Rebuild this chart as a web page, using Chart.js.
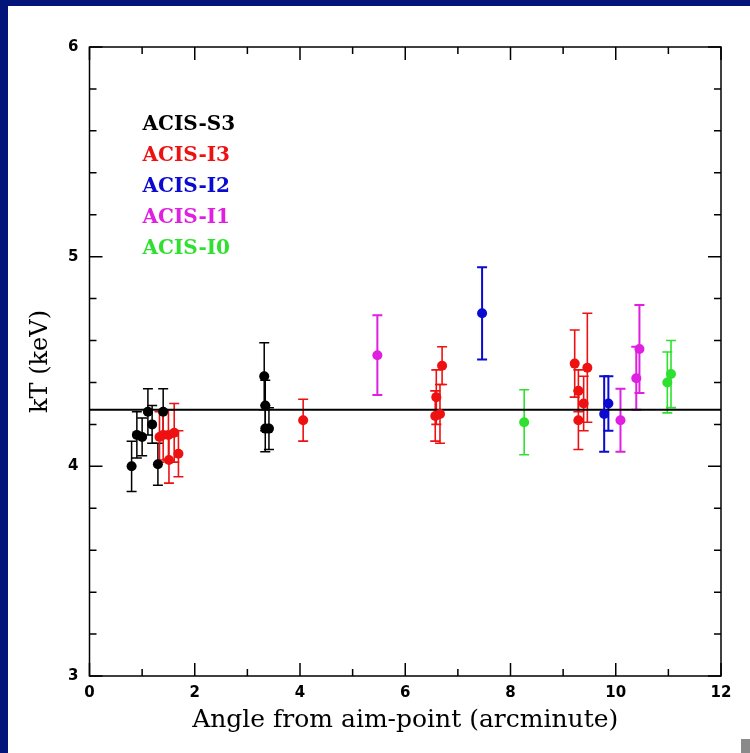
<!DOCTYPE html>
<html>
<head>
<meta charset="utf-8">
<script src="https://cdn.jsdelivr.net/npm/chart.js@4.4.0/dist/chart.umd.min.js"></script>
<style>
  html, body { margin: 0; padding: 0; }
  body { width: 750px; height: 753px; background: #03157a; position: relative; overflow: hidden; }
  #hoja { position: absolute; left: 8px; top: 6px; width: 742px; height: 747px; background: #fff; }
  #marca { position: absolute; left: 741px; top: 739px; width: 9px; height: 14px; background: #8a8a8a; }
  canvas { position: absolute; left: 0; top: 0; }
</style>
</head>
<body>
<div id="hoja"></div>
<div id="marca"></div>
<canvas id="grafico" width="750" height="753"></canvas>
<script>
// datos (x = angulo en arcmin, y = kT en keV, err = barra +/-)
const s3X = [0.80, 0.90, 1.00, 1.11, 1.19, 1.30, 1.40, 3.32, 3.34, 3.34, 3.41];
const s3Y = [4.00, 4.15, 4.14, 4.26, 4.20, 4.01, 4.26, 4.43, 4.29, 4.18, 4.18];
const s3Err = [0.12, 0.11, 0.09, 0.11, 0.09, 0.10, 0.11, 0.16, 0.12, 0.11, 0.10];

const i3X = [1.33, 1.40, 1.50, 1.61, 1.51, 1.69, 4.06, 6.57, 6.59, 6.66, 6.70, 9.22, 9.29, 9.29, 9.39, 9.46];
const i3Y = [4.14, 4.15, 4.15, 4.16, 4.03, 4.06, 4.22, 4.24, 4.33, 4.25, 4.48, 4.49, 4.36, 4.22, 4.30, 4.47];
const i3Err = [0.12, 0.12, 0.12, 0.14, 0.11, 0.11, 0.10, 0.12, 0.13, 0.14, 0.09, 0.16, 0.10, 0.14, 0.13, 0.26];

const i2X = [7.46, 9.78, 9.86];
const i2Y = [4.73, 4.25, 4.30];
const i2Err = [0.22, 0.18, 0.13];

const i1X = [5.47, 10.09, 10.39, 10.45];
const i1Y = [4.53, 4.22, 4.42, 4.56];
const i1Err = [0.19, 0.15, 0.15, 0.21];

const i0X = [8.26, 10.98, 11.05];
const i0Y = [4.21, 4.40, 4.44];
const i0Err = [0.155, 0.145, 0.16];

const detectores = ['ACIS-S3', 'ACIS-I3', 'ACIS-I2', 'ACIS-I1', 'ACIS-I0'];
const colores = ['#000000', '#ee1111', '#0a0ad0', '#e020e0', '#30e030'];

const mediaKT = 4.27;
const xTicks = [0, 2, 4, 6, 8, 10, 12];
const yTicks = [3, 4, 5, 6];

function puntos(xs, ys) {
    return xs.map((x, i) => ({ x: x, y: ys[i] }));
}

const series = [
    { x: s3X, y: s3Y, err: s3Err, grosor: 1.5 },
    { x: i3X, y: i3Y, err: i3Err, grosor: 1.6 },
    { x: i2X, y: i2Y, err: i2Err, grosor: 2 },
    { x: i1X, y: i1Y, err: i1Err, grosor: 2 },
    { x: i0X, y: i0Y, err: i0Err, grosor: 1.6 }
];

const datasets = series.map((s, k) => ({
    type: 'scatter',
    label: detectores[k],
    data: puntos(s.x, s.y),
    err: s.err,
    grosor: s.grosor,
    backgroundColor: colores[k],
    borderColor: colores[k],
    pointRadius: 5,
    pointBorderWidth: 0
}));

// linea horizontal del valor medio
datasets.push({
    type: 'line',
    label: 'media',
    data: [{ x: 0, y: mediaKT }, { x: 12, y: mediaKT }],
    borderColor: '#000',
    borderWidth: 2,
    pointRadius: 0
});

// barras de error, marco, ticks hacia dentro y leyenda
const extras = {
    id: 'extras',
    beforeDatasetsDraw(chart) {
        const ctx = chart.ctx;
        const xs = chart.scales.x, ys = chart.scales.y;
        chart.data.datasets.forEach(ds => {
            if (!ds.err) return;
            ctx.save();
            ctx.strokeStyle = ds.borderColor;
            ctx.lineWidth = ds.grosor;
            ds.data.forEach((p, i) => {
                const px = xs.getPixelForValue(p.x);
                const arriba = ys.getPixelForValue(p.y + ds.err[i]);
                const abajo = ys.getPixelForValue(p.y - ds.err[i]);
                ctx.beginPath();
                ctx.moveTo(px, arriba); ctx.lineTo(px, abajo);
                ctx.moveTo(px - 5, arriba); ctx.lineTo(px + 5, arriba);
                ctx.moveTo(px - 5, abajo); ctx.lineTo(px + 5, abajo);
                ctx.stroke();
            });
            ctx.restore();
        });
    },
    afterDraw(chart) {
        const ctx = chart.ctx;
        const a = chart.chartArea;
        const xs = chart.scales.x, ys = chart.scales.y;
        ctx.save();
        ctx.strokeStyle = '#000';
        ctx.lineWidth = 1.5;
        ctx.strokeRect(a.left, a.top, a.right - a.left, a.bottom - a.top);

        ctx.beginPath();
        for (let v = 0; v <= 12; v++) {
            const px = xs.getPixelForValue(v);
            const largo = v % 2 === 0 ? 13 : 7;
            ctx.moveTo(px, a.bottom); ctx.lineTo(px, a.bottom - largo);
            ctx.moveTo(px, a.top); ctx.lineTo(px, a.top + largo);
        }
        for (let k = 0; k <= 15; k++) {
            const v = 3 + k * 0.2;
            const py = ys.getPixelForValue(v);
            const largo = k % 5 === 0 ? 13 : 7;
            ctx.moveTo(a.left, py); ctx.lineTo(a.left + largo, py);
            ctx.moveTo(a.right, py); ctx.lineTo(a.right - largo, py);
        }
        ctx.stroke();

        // leyenda
        ctx.font = 'bold 20px "DejaVu Serif"';
        ctx.textBaseline = 'middle';
        ctx.textAlign = 'left';
        detectores.forEach((t, k) => {
            ctx.fillStyle = colores[k];
            ctx.fillText(t, a.left + 53, a.top + 78 + k * 30.9);
        });
        ctx.restore();
    }
};

new Chart(document.getElementById('grafico'), {
    data: { datasets },
    plugins: [extras],
    options: {
        responsive: false,
        animation: false,
        layout: { padding: { top: 47, right: 29, left: 12, bottom: 8 } },
        plugins: {
            legend: { display: false },
            tooltip: { enabled: false }
        },
        scales: {
            x: {
                type: 'linear',
                min: 0,
                max: 12,
                afterFit: s => { s.height = 69; },
                afterBuildTicks: s => { s.ticks = xTicks.map(v => ({ value: v })); },
                grid: { display: false, drawTicks: false },
                border: { display: false },
                ticks: { color: '#000', padding: 8, maxRotation: 0, font: { family: 'DejaVu Sans', weight: 'bold', size: 15 } },
                title: {
                    display: true,
                    text: 'Angle from aim-point (arcminute)',
                    color: '#000',
                    padding: { top: 0, bottom: 10 },
                    font: { family: 'DejaVu Serif', size: 25 }
                }
            },
            y: {
                type: 'linear',
                min: 3,
                max: 6,
                afterFit: s => { s.width = 77.5; },
                afterBuildTicks: s => { s.ticks = yTicks.map(v => ({ value: v })); },
                grid: { display: false, drawTicks: false },
                border: { display: false },
                ticks: { color: '#000', padding: 11, font: { family: 'DejaVu Sans', weight: 'bold', size: 15 } },
                title: {
                    display: true,
                    text: 'kT (keV)',
                    color: '#000',
                    padding: { top: 14, bottom: 0 },
                    font: { family: 'DejaVu Serif', size: 24 }
                }
            }
        }
    }
});
</script>
</body>
</html>
